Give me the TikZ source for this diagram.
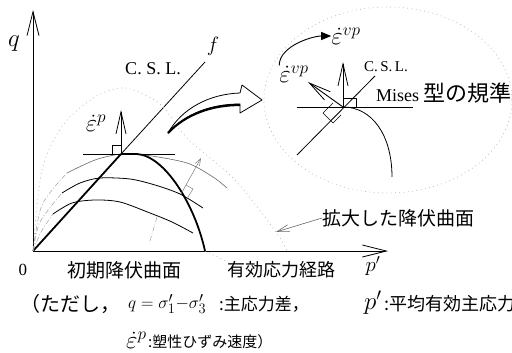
\documentclass[tikz,border=0pt]{standalone}
\usepackage{fontspec}
\setmainfont{Liberation Serif}
\newfontfamily\jp{Noto Sans CJK JP}
\usetikzlibrary{arrows.meta}

\begin{document}
\begin{tikzpicture}[x=1pt,y=-1pt,line join=round,
  axis/.style={line width=0.9pt,-{Straight Barb[length=24pt,width=12pt,line width=0.8pt]}},
  vec/.style={line width=0.9pt,-{Straight Barb[length=22pt,width=10pt,line width=0.8pt]}},
  yc/.style={line width=0.8pt},
  bold/.style={line width=1.8pt},
  faint/.style={gray!75,line width=0.5pt,dash pattern=on 5pt off 2pt on 1pt off 2pt},
  dots/.style={gray!60,line width=0.7pt,dash pattern=on 0.8pt off 3.5pt},
  sym/.style={inner sep=0pt,font=\fontsize{21}{21}\selectfont},
  lbl/.style={inner sep=0pt,font=\fontsize{19}{19}\selectfont\jp},
  note/.style={inner sep=0pt,anchor=west,font=\fontsize{18}{18}\selectfont\jp}]
  \useasboundingbox (0,0) rectangle (512,353);

  % axes and critical state line
  \coordinate (O) at (33,251);
  \coordinate (qend) at (33,10);
  \coordinate (pend) at (388,251);
  \coordinate (apex) at (121,154);
  \coordinate (cslend) at (205,62);
  \draw[axis] (O) -- (qend);
  \draw[axis] (O) -- (pend);
  \draw[yc] (apex) -- (cslend);
  \draw[bold] (O) -- (apex);
  \node[sym,font=\fontsize{26}{26}\selectfont] (q) at (14,44) {$q$};
  \node[sym,font=\fontsize{17}{17}\selectfont] (zero) at (23,270) {0};
  \node[sym] (p) at (373,266) {$p'$};
  \node[sym] (f) at (213,46) {$f$};
  \node[sym,font=\fontsize{18}{18}\selectfont] (csl) at (153,69) {C. S. L.};

  % yield curves
  \draw[faint] plot[smooth] coordinates {(O) (41,232) (53,214)};
  \draw[yc] plot[smooth] coordinates {(53,214) (72,203) (95,200) (120,202) (150,213) (172,222) (193,233)};
  \draw[faint] plot[smooth] coordinates {(O) (40,222) (62,193)};
  \draw[yc] plot[smooth] coordinates {(62,193) (80,183) (100,178) (130,179) (155,185) (180,194) (203,208)};
  \draw[faint] plot[smooth] coordinates {(O) (42,205) (67,173)};
  \draw[gray!80!black,line width=0.6pt] plot[smooth] coordinates {(67,173) (95,160) (apex) (145,155) (187,163) (213,177) (227,188)};
  \draw[dots] plot[smooth] coordinates {(O) (42,170) (63,125) (95,97) (125,88) (160,104) (187,138) (235,180) (276,232) (287,251)};

  % effective stress path
  \draw[bold] (apex) -- (137,154) .. controls (165,156) and (195,205) .. (205,251);

  % strain rate at the apex
  \coordinate (ep) at (121,110);
  \draw[yc] (83,154) -- (175,154);
  \draw[line width=0.7pt] (112,145) rectangle (121,154);
  \draw[vec] (apex) -- (ep);
  \node[sym,font=\fontsize{24}{24}\selectfont] (epl) at (96,123) {$\dot{\varepsilon}^{p}$};

  % normal on the middle curve
  \coordinate (nb) at (181,194);
  \coordinate (nt) at (201,158);
  \draw[gray,line width=0.5pt,-{Straight Barb[length=7pt,width=5pt]}] (nb) -- (nt);
  \draw[gray,line width=0.5pt] (186,185) -- (193,189) -- (188,197);

  % labels and leaders
  \node[lbl] (ini) at (124,270) {初期降伏曲面};
  \coordinate (inileg) at (150,241);
  \coordinate (inipt) at (157,217);
  \draw[faint] (inileg) -- (inipt);
  \node[lbl,font=\fontsize{18}{18}\selectfont\jp,anchor=west] (esp) at (227,270) {有効応力経路};
  \draw[dots] (205,251) -- (esp.north west);
  \node[lbl,anchor=west] (exp) at (322,218) {拡大した降伏曲面};
  \coordinate (exppt) at (276,232);
  \draw[gray!80!black,line width=0.6pt,-{Straight Barb[length=12pt,width=7pt]}] (exp.west) -- (exppt);

  % hollow curved arrow
  \draw[line width=0.8pt,fill=white] (168,133) .. controls (182,108) and (210,94) .. (240,93)
    -- (242,85) -- (262,100) -- (240,113) -- (240,104) .. controls (212,104) and (186,113) .. (168,133) -- cycle;
  \draw[line width=2.2pt] (240,105) .. controls (212,105) and (186,114) .. (168,133);

  % magnified corner (Mises type)
  \draw[dots] (388,100) ellipse [x radius=124, y radius=93];
  \coordinate (C) at (343,107);
  \draw[yc] (297,107) -- (413,107);
  \draw[yc] (297,155) -- (375,76);
  \draw[yc] (C) .. controls (372,107) and (392,135) .. (392,177);
  \draw[line width=0.7pt] (343,98) rectangle (356,107);
  \draw[vec] (C) -- (343,62);
  \draw[vec] (C) -- (308,82);
  \draw[line width=0.7pt] (333,103) -- (323,113) -- (333,123) -- (341,115);
  \node[sym,font=\fontsize{25}{25}\selectfont] (evp) at (346,36) {$\dot{\varepsilon}^{vp}$};
  \node[sym,font=\fontsize{25}{25}\selectfont] (evpn) at (294,74) {$\dot{\varepsilon}^{vp}$};
  \draw[line width=0.9pt,-{Triangle[length=10pt,width=8pt]}] (evpn.north west) .. controls +(0,-20) and +(-18,0) .. (evp.west);
  \node[sym,font=\fontsize{15}{15}\selectfont] (csl2) at (386,67) {C.\,S.\,L.};
  \node[sym,font=\fontsize{18}{18}\selectfont,anchor=west] (mises) at (376,93) {Mises {\fontsize{22}{22}\selectfont\jp 型の規準}};

  % caption
  \node[note,font=\fontsize{20}{20}\selectfont\jp] (note1) at (20,304) {（ただし，};
  \node[note,font=\fontsize{19}{19}\selectfont] (note2) at (128,304) {$q=\sigma'_1{-}\sigma'_3$};
  \node[note,font=\fontsize{17}{17}\selectfont\jp] (note3) at (219,304) {:主応力差，};
  \node[note,font=\fontsize{24}{24}\selectfont] (note4) at (364,303) {$p'$};
  \node[note] (note5) at (384,304) {:平均有効主応力};
  \node[note,font=\fontsize{25}{25}\selectfont] (note6) at (126,340) {$\dot{\varepsilon}^{p}$};
  \node[note,font=\fontsize{15}{15}\selectfont\jp] (note7) at (148,342) {:塑性ひずみ速度）};
\end{tikzpicture}
\end{document}
